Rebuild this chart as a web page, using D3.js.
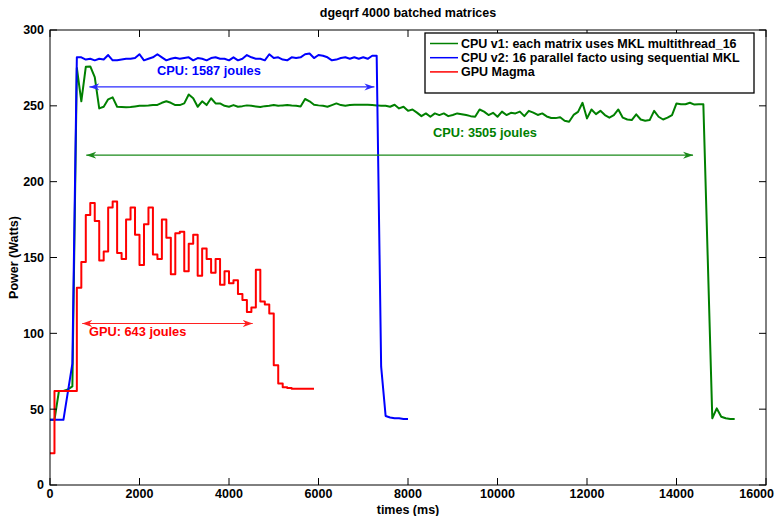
<!DOCTYPE html>
<html>
<head>
<meta charset="utf-8">
<script src="https://cdn.jsdelivr.net/npm/d3@7"></script>
<style>
  body { margin: 0; background: #fff; }
  text { font-family: "Liberation Sans", Arial, Helvetica, sans-serif; font-weight: bold; }
</style>
</head>
<body>
<div id="chart"></div>
<script>

// power samples [time ms, watts]
const cpuV1 = [
  [0,43],[100,43],[200,62],[300,62],[400,63],[500,65],[600,275],[700,253],[800,275.7],[900,276],
  [1000,269],[1100,248.3],[1200,249.4],[1300,254.3],[1400,255.6],[1500,249.4],[1600,249.2],[1700,249],[1800,249.2],[1900,249.6],
  [2000,250],[2100,250],[2200,250.2],[2300,250.5],[2400,250.6],[2500,252],[2600,253],[2700,252],[2800,250.5],[2900,250.5],
  [3000,251.6],[3100,257.5],[3200,255],[3300,249.4],[3400,253],[3500,250.5],[3600,255],[3700,251.6],[3800,251.6],[3900,250],
  [4000,249.4],[4100,250.5],[4200,249.4],[4300,249.8],[4400,250.3],[4500,250],[4600,249.6],[4700,249.2],[4800,249.8],[4900,250],
  [5000,250.5],[5100,250],[5200,250.3],[5300,250.5],[5400,250.2],[5500,250],[5600,249.6],[5700,254.5],[5800,253],[5900,250.7],
  [6000,250.3],[6100,250],[6200,249.4],[6300,250.5],[6400,251.6],[6500,250.5],[6600,250],[6700,250.5],[6800,250.7],[6900,250.7],
  [7000,250.7],[7100,250.7],[7200,250.5],[7300,250.3],[7400,250],[7500,250],[7600,249.4],[7700,250.7],[7800,248.3],[7900,249.4],
  [8000,246.7],[8100,247.6],[8200,245.5],[8300,243.2],[8400,245],[8500,242.8],[8600,245],[8700,243.9],[8800,245],[8900,243.2],
  [9000,244],[9100,245],[9200,244.5],[9300,243.9],[9400,243.2],[9500,242.8],[9600,247.6],[9700,246.2],[9800,243.9],[9900,245.4],
  [10000,242.8],[10100,246.2],[10200,243.9],[10300,245.4],[10400,245],[10500,246.2],[10600,243.2],[10700,246.7],[10800,245.5],[10900,244],
  [11000,245],[11100,243],[11200,242],[11300,241.9],[11400,242.5],[11500,240.2],[11600,239.5],[11700,244],[11800,246],[11900,252],
  [12000,241.7],[12100,247.6],[12200,244.5],[12300,246.7],[12400,243.9],[12500,242.2],[12600,243.9],[12700,247.6],[12800,242.2],[12900,241],
  [13000,240.6],[13100,244.4],[13200,241],[13300,240.2],[13400,240.6],[13500,246.7],[13600,242.8],[13700,241],[13800,242.2],[13900,243.9],
  [14000,251.6],[14100,251],[14200,251],[14300,252],[14400,250.8],[14500,251],[14600,251],[14800,44],[14900,50.5],[15000,45],
  [15100,44],[15200,43.5],[15300,43.5]
];

const cpuV2 = [
  [0,43],[100,43],[200,43],[300,43],[500,80],[600,282],[700,282],[800,280.5],[900,281],
  [1000,280],[1100,281],[1200,280.5],[1300,283.5],[1400,280],[1500,280],[1600,280.5],[1700,281],[1800,281],[1900,281.5],
  [2000,284],[2100,280],[2200,281],[2300,282],[2400,284],[2500,282],[2600,280],[2700,281],[2800,281.7],[2900,281],
  [3000,281.5],[3100,282],[3200,280],[3300,281.5],[3400,281],[3500,280],[3600,281.5],[3700,282],[3800,281],[3900,281],
  [4000,280],[4100,282],[4200,280],[4300,281],[4400,283.5],[4500,282],[4600,281],[4700,281],[4800,280],[4900,284],
  [5000,281.5],[5100,282],[5200,280.5],[5300,280],[5400,282],[5500,281.5],[5600,282],[5700,284],[5800,284.5],[5900,281.5],
  [6000,283.5],[6100,283],[6200,282],[6300,280],[6400,280.5],[6500,281.5],[6600,282],[6700,281],[6800,282],[6900,281],
  [7000,282],[7100,281],[7200,283],[7300,283],[7400,78],[7500,45.5],[7600,44.5],[7700,44],[7800,44],[7900,43.5],[8000,43.5]
];

// gpu meter reports in 100ms steps
const gpuMagma = [
  [0,21],[100,62],[200,62],[300,62],[400,62],[500,62],[600,130],[700,147],[800,178],[900,186],
  [1000,174],[1100,148],[1200,154],[1300,183],[1400,187],[1500,153],[1600,149],[1700,175],[1800,183],[1900,165],
  [2000,145],[2100,172],[2200,183],[2300,152],[2400,149],[2500,175],[2600,163],[2700,139],[2800,166],[2900,167],
  [3000,141],[3100,159],[3200,165],[3300,138],[3400,156],[3500,149],[3600,140],[3700,149],[3800,132],[3900,141],
  [4000,133],[4100,135],[4200,126],[4300,122],[4400,114],[4500,117],[4600,142],[4700,121],[4800,119],[4900,113],
  [5000,79],[5100,67],[5200,64.5],[5300,64],[5400,63.5],[5500,63.5],[5600,63.5],[5700,63.5],[5800,63.5],[5900,63.5]
];

const seriesNames = [
  'CPU v1: each matrix uses MKL multithread_16',
  'CPU v2: 16 parallel facto using sequential MKL',
  'GPU Magma'
];
const seriesColors = ['#008000', '#0000ff', '#ff0000'];

const xTicks = [0, 2000, 4000, 6000, 8000, 10000, 12000, 14000, 16000];
const yTicks = [0, 50, 100, 150, 200, 250, 300];

// energy annotations: arrow span (ms) at a power level, text anchor (ms, watts)
const energyLabels = ['CPU: 1587 joules', 'CPU: 3505 joules', 'GPU: 643 joules'];
const arrowFrom = [880, 810, 720];
const arrowTo = [7250, 14370, 4530];
const arrowLevel = [262.5, 217.5, 106.5];
const labelTime = [2390, 8560, 870];
const labelPower = [270.5, 229.5, 98.5];
const labelColors = ['#0000ff', '#008000', '#ff0000'];
const arrowColors = ['#2a2aff', '#1a8a1a', '#ff2020'];

const margin = {top: 30, right: 9, bottom: 31, left: 50};
const width = 775 - margin.left - margin.right;
const height = 516 - margin.top - margin.bottom;

const svg = d3.select('#chart')
    .append('svg')
    .attr('width', 775)
    .attr('height', 516);

const g = svg.append('g')
    .attr('transform', `translate(${margin.left},${margin.top})`);

const x = d3.scaleLinear().domain([0, 16000]).range([0, width]);
const y = d3.scaleLinear().domain([0, 300]).range([height, 0]);

// arrow heads
const defs = svg.append('defs');
arrowColors.forEach((c, i) => {
    defs.append('marker')
        .attr('id', 'head' + i)
        .attr('viewBox', '0 -5 10 10')
        .attr('refX', 10)
        .attr('refY', 0)
        .attr('markerWidth', 10)
        .attr('markerHeight', 10)
        .attr('markerUnits', 'userSpaceOnUse')
        .attr('orient', 'auto-start-reverse')
        .append('path')
        .attr('d', 'M0,-3.5L10,0L0,3.5L3,0Z')
        .attr('fill', c);
});

// lines
const line = d3.line().x(d => x(d[0])).y(d => y(d[1]));
const stepLine = d3.line().x(d => x(d[0])).y(d => y(d[1])).curve(d3.curveStepAfter);

const allSeries = [cpuV1, cpuV2, gpuMagma];
allSeries.forEach((s, i) => {
    g.append('path')
        .datum(s)
        .attr('fill', 'none')
        .attr('stroke', seriesColors[i])
        .attr('stroke-width', 2)
        .attr('stroke-linejoin', 'round')
        .attr('d', i == 2 ? stepLine : line);
});

// annotations
energyLabels.forEach((lab, i) => {
    g.append('line')
        .attr('x1', x(arrowFrom[i]))
        .attr('x2', x(arrowTo[i]))
        .attr('y1', y(arrowLevel[i]))
        .attr('y2', y(arrowLevel[i]))
        .attr('stroke', arrowColors[i])
        .attr('stroke-width', 1.2)
        .attr('marker-start', `url(#head${i})`)
        .attr('marker-end', `url(#head${i})`);

    g.append('text')
        .attr('x', x(labelTime[i]))
        .attr('y', y(labelPower[i]))
        .attr('font-size', '12.8px')
        .attr('fill', labelColors[i])
        .text(lab);
});

// axes box with inward ticks on all four sides
const tickLen = 7;
g.append('rect')
    .attr('width', width)
    .attr('height', height)
    .attr('fill', 'none')
    .attr('stroke', '#000')
    .attr('stroke-width', 1);

xTicks.forEach(t => {
    g.append('line').attr('x1', x(t)).attr('x2', x(t)).attr('y1', height).attr('y2', height - tickLen).attr('stroke', '#000');
    g.append('line').attr('x1', x(t)).attr('x2', x(t)).attr('y1', 0).attr('y2', tickLen).attr('stroke', '#000');
});
yTicks.forEach(t => {
    g.append('line').attr('x1', 0).attr('x2', tickLen).attr('y1', y(t)).attr('y2', y(t)).attr('stroke', '#000');
    g.append('line').attr('x1', width).attr('x2', width - tickLen).attr('y1', y(t)).attr('y2', y(t)).attr('stroke', '#000');
});

// last x label is pulled inside the page edge, like the original export
const lastTick = xTicks[xTicks.length - 1];
g.selectAll('.xlab')
    .data(xTicks)
    .enter().append('text')
    .attr('x', d => d === lastTick ? 775 - margin.left - 1 : x(d))
    .attr('y', height + 12.5)
    .attr('text-anchor', d => d === lastTick ? 'end' : 'middle')
    .attr('font-size', '12.5px')
    .text(d => d);

g.selectAll('.ylab')
    .data(yTicks)
    .enter().append('text')
    .attr('x', -6)
    .attr('y', d => y(d))
    .attr('dy', '.35em')
    .attr('text-anchor', 'end')
    .attr('font-size', '12.5px')
    .text(d => d);

// titles
svg.append('text')
    .attr('x', margin.left + width / 2)
    .attr('y', 17)
    .attr('text-anchor', 'middle')
    .attr('font-size', '12.5px')
    .text('dgeqrf 4000 batched matrices');

svg.append('text')
    .attr('x', margin.left + width / 2)
    .attr('y', 513.5)
    .attr('text-anchor', 'middle')
    .attr('font-size', '12.5px')
    .text('times (ms)');

svg.append('text')
    .attr('transform', `translate(18,${margin.top + height / 2}) rotate(-90)`)
    .attr('text-anchor', 'middle')
    .attr('font-size', '12.5px')
    .text('Power (Watts)');

// legend
const legend = svg.append('g').attr('transform', 'translate(425,33)');
legend.append('rect')
    .attr('width', 329)
    .attr('height', 60)
    .attr('fill', '#fff')
    .attr('stroke', '#000')
    .attr('stroke-width', 1.3);

seriesNames.forEach((name, i) => {
    const ly = 10.5 + i * 14.2;
    legend.append('line')
        .attr('x1', 5).attr('x2', 33)
        .attr('y1', ly).attr('y2', ly)
        .attr('stroke', seriesColors[i])
        .attr('stroke-width', 1.5);
    legend.append('text')
        .attr('x', 36)
        .attr('y', ly)
        .attr('dy', '.35em')
        .attr('font-size', '12.5px')
        .text(name);
});

</script>
</body>
</html>
